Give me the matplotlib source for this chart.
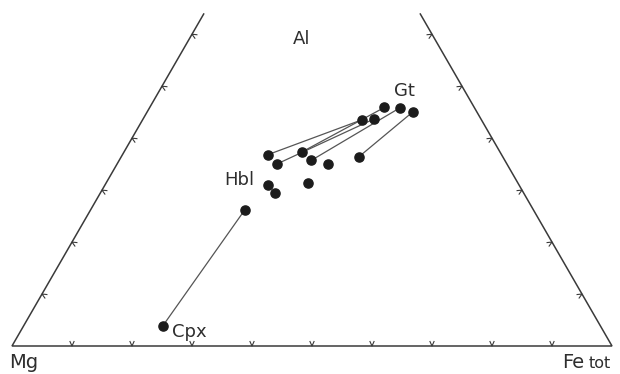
import numpy as np
import matplotlib
matplotlib.use("Agg")
import matplotlib.pyplot as plt

# Compositions in percent (Al, Fe_tot); Mg = 100 - Al - Fe
hbl_al = [36.8, 35.0, 37.3, 35.7, 36.4, 35.0, 31.0, 29.5, 31.4, 26.2]
hbl_fe = [24.2, 26.6, 29.6, 32.0, 39.6, 35.1, 27.2, 29.0, 33.6, 25.7]
gt_al = [43.5, 43.7, 45.9, 45.8, 45.1]
gt_fe = [36.5, 38.5, 39.1, 41.7, 44.3]
cpx_al = [3.9]
cpx_fe = [23.2]
# tie lines: (hbl index, partner index)
tie_hbl_gt = [(0, 0), (1, 1), (2, 2), (3, 3), (4, 4)]
tie_hbl_cpx = [(9, 0)]

vertex_labels = ["Mg", "Fe", "Al"]
mineral_labels = ["Gt", "Hbl", "Cpx"]

H = np.sqrt(3) / 2


def tern(al, fe):
    al = np.asarray(al, float) / 100.0
    fe = np.asarray(fe, float) / 100.0
    return fe + al / 2.0, al * H


fig = plt.figure(figsize=(6.2, 3.74), dpi=100)
ax = fig.add_axes([0, 0, 1, 1])
ax.set_xlim(-12 / 600, 608 / 600)
ax.set_ylim(-28 / 600, 346 / 600)
ax.axis("off")

lc = "#3a3a3a"
# triangle (upper part cut off in the original)
ytop = (346 - 14) / 600
xl = ytop / np.sqrt(3)
ax.plot([xl, 0, 1, 1 - xl], [ytop, 0, 0, ytop], color=lc, lw=1.1,
        solid_joinstyle="miter")

# small v-shaped ticks every 10 %
tl = 0.0075
corners = np.array([[0, 0], [1, 0], [0.5, H]])
centroid = corners.mean(axis=0)
for a, b in [(0, 1), (0, 2), (1, 2)]:
    p, q = corners[a], corners[b]
    d = q - p
    t = d / np.linalg.norm(d)
    n = np.array([-t[1], t[0]])
    mid = (p + q) / 2
    if np.dot(centroid - mid, n) < 0:
        n = -n
    for k in range(1, 10):
        pt = p + d * k / 10
        if pt[1] > ytop:
            continue
        ax.plot([pt[0] + n[0] * tl - t[0] * tl * 0.45, pt[0], pt[0] + n[0] * tl + t[0] * tl * 0.45],
                [pt[1] + n[1] * tl - t[1] * tl * 0.45, pt[1], pt[1] + n[1] * tl + t[1] * tl * 0.45],
                color=lc, lw=0.8)

hx, hy = tern(hbl_al, hbl_fe)
gx, gy = tern(gt_al, gt_fe)
cx, cy = tern(cpx_al, cpx_fe)

for i, j in tie_hbl_gt:
    ax.plot([hx[i], gx[j]], [hy[i], gy[j]], color="#555555", lw=0.9, zorder=2)
for i, j in tie_hbl_cpx:
    ax.plot([hx[i], cx[j]], [hy[i], cy[j]], color="#555555", lw=0.9, zorder=2)

mk = dict(marker="o", ls="none", ms=6.6, color="#1c1c1c", zorder=3)
ax.plot(hx, hy, **mk)
ax.plot(gx, gy, **mk)
ax.plot(cx, cy, **mk)

tc = "#2e2e2e"
fam = ["DejaVu Sans"]


def px(x, y):
    return (x - 12) / 600, (346 - y) / 600


ax.text(*px(302, 39), vertex_labels[2], fontsize=13, family=fam, color=tc,
        ha="center", va="center")
ax.text(*px(404, 91), mineral_labels[0], fontsize=13, family=fam, color=tc,
        ha="center", va="center")
ax.text(*px(239, 180), mineral_labels[1], fontsize=13, family=fam, color=tc,
        ha="center", va="center")
ax.text(*px(172, 332), mineral_labels[2], fontsize=13, family=fam, color=tc,
        ha="left", va="center")
ax.text(*px(9, 363), vertex_labels[0], fontsize=14, family=fam, color=tc,
        ha="left", va="center")
ax.text(*px(562, 363), vertex_labels[1], fontsize=14, family=fam, color=tc,
        ha="left", va="center")
ax.text(*px(589, 364), "tot", fontsize=11.5, family=fam, color=tc,
        ha="left", va="center")

fig.savefig("out.png", dpi=100)
